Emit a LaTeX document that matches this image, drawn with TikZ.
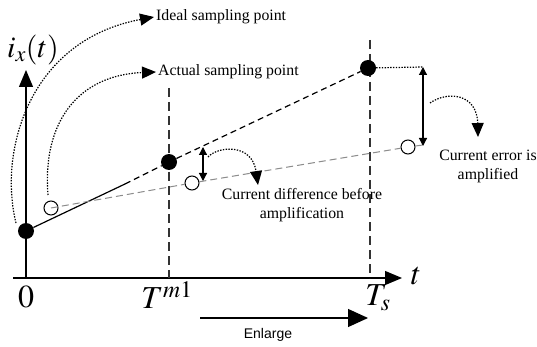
\documentclass[tikz,border=0pt]{standalone}
\usepackage{mathptmx}
\usepackage[no-math]{fontspec}
\setmainfont{Liberation Serif}
\newfontfamily\enlfont{Liberation Sans}
\usetikzlibrary{arrows.meta}
\begin{document}
\begin{tikzpicture}[x=1pt,y=-1pt,
  axis/.style={line width=1.2pt,-{Triangle[length=17pt,width=14pt]}},
  vdash/.style={draw=black!80,line width=1.2pt,dash pattern=on 9pt off 5pt},
  bdash/.style={line width=1.2pt,dash pattern=on 6pt off 4pt},
  gdash/.style={draw=black!45,line width=1pt,dash pattern=on 7pt off 4pt},
  dotline/.style={line width=1.2pt,dash pattern=on 1.4pt off 1.4pt},
  dotarrow/.style={dotline,-{Triangle[length=14pt,width=12pt]}},
  blackdot/.style={circle,fill=black,minimum size=16pt,inner sep=0pt},
  opendot/.style={circle,draw,line width=1pt,minimum size=14pt,inner sep=0pt},
  dbl/.style={line width=1.2pt,{Triangle[length=8pt,width=8pt]}-{Triangle[length=8pt,width=8pt]}},
  lbl/.style={font=\fontsize{15.8}{19}\selectfont,align=center},
  mlbl/.style={font=\fontsize{32}{36}\selectfont,inner sep=0pt}]
\useasboundingbox (0,0) rectangle (537,347);
% axes
\coordinate (O) at (26,278);
\coordinate (ytop) at (26,70);
\coordinate (xl) at (13,278);
\coordinate (xr) at (402,278);
\draw[axis] (O) -- (ytop);
\draw[axis] (xl) -- (xr);
% vertical dashed lines
\coordinate (v1t) at (169,88);
\coordinate (v1b) at (169,278);
\coordinate (v2t) at (370,40);
\coordinate (v2b) at (370,278);
\draw[vdash] (v1t) -- (v1b);
\draw[vdash] (v2t) -- (v2b);
% points
\node[blackdot] (p0) at (26,231) {};
\node[blackdot] (p1) at (169,162) {};
\node[blackdot] (p2) at (368,68) {};
\node[opendot] (q0) at (51,208) {};
\node[opendot] (q1) at (192,183) {};
\node[opendot] (q2) at (408,147) {};
% lines
\coordinate (sEnd) at (125,184);
\draw[line width=1.2pt] (p0) -- (sEnd);
\draw[bdash] (sEnd) -- (p1);
\draw[bdash] (p1) -- (p2);
\coordinate (gEnd) at (423,145);
\draw[gdash] (q0.center) -- (q1);
\draw[gdash] (q1) -- (q2);
\draw[gdash] (q2) -- (gEnd);
% double arrows
\coordinate (da1t) at (203,147);
\coordinate (da1b) at (203,181);
\coordinate (da2t) at (423,67);
\coordinate (da2b) at (423,146);
\draw[dbl] (da1t) -- (da1b);
\draw[dbl] (da2t) -- (da2b);
\draw[dotline] (p2) -- (da2t);
% labels
\node[lbl,anchor=west,inner sep=2pt] (ideal) at (154,17) {Ideal sampling point};
\node[lbl,anchor=west,inner sep=2pt] (actual) at (156,72) {Actual sampling point};
\node[lbl] (diff) at (302,205) {Current difference before\\amplification};
\node[lbl] (err) at (488,166) {Current error is\\amplified};
% dotted curved arrows
\coordinate (c1s) at (208,157);
\draw[dotarrow] (c1s) .. controls (218,146) and (252,143) .. (258,185);
\coordinate (c2s) at (430,103);
\draw[dotarrow] (c2s) .. controls (447,91) and (477,93) .. (478,137);
\coordinate (c3s) at (16,223);
\draw[dotarrow] (c3s) .. controls (-2,150) and (30,40) .. (ideal.west);
\coordinate (c4s) at (48,195);
\draw[dotarrow] (c4s) .. controls (42,120) and (80,75) .. (actual.west);
% enlarge
\node[font=\enlfont\fontsize{14}{16}\selectfont] (enl) at (268,335) {Enlarge};
\coordinate (e1) at (200,318);
\coordinate (e2) at (368,318);
\draw[line width=1.2pt,-{Triangle[length=20pt,width=18pt]}] (e1) -- (e2);
% math labels
\node[mlbl] (zero) at (26,297) {$0$};
\node[mlbl] (tm) at (167,295) {$T^{m1}$};
\node[mlbl] (ts) at (378,298) {$T_s$};
\node[mlbl] (tt) at (416,276) {$t$};
\node[font=\fontsize{30}{34}\selectfont,inner sep=0pt] (ix) at (33,50) {$i_x(t)$};
\end{tikzpicture}
\end{document}
